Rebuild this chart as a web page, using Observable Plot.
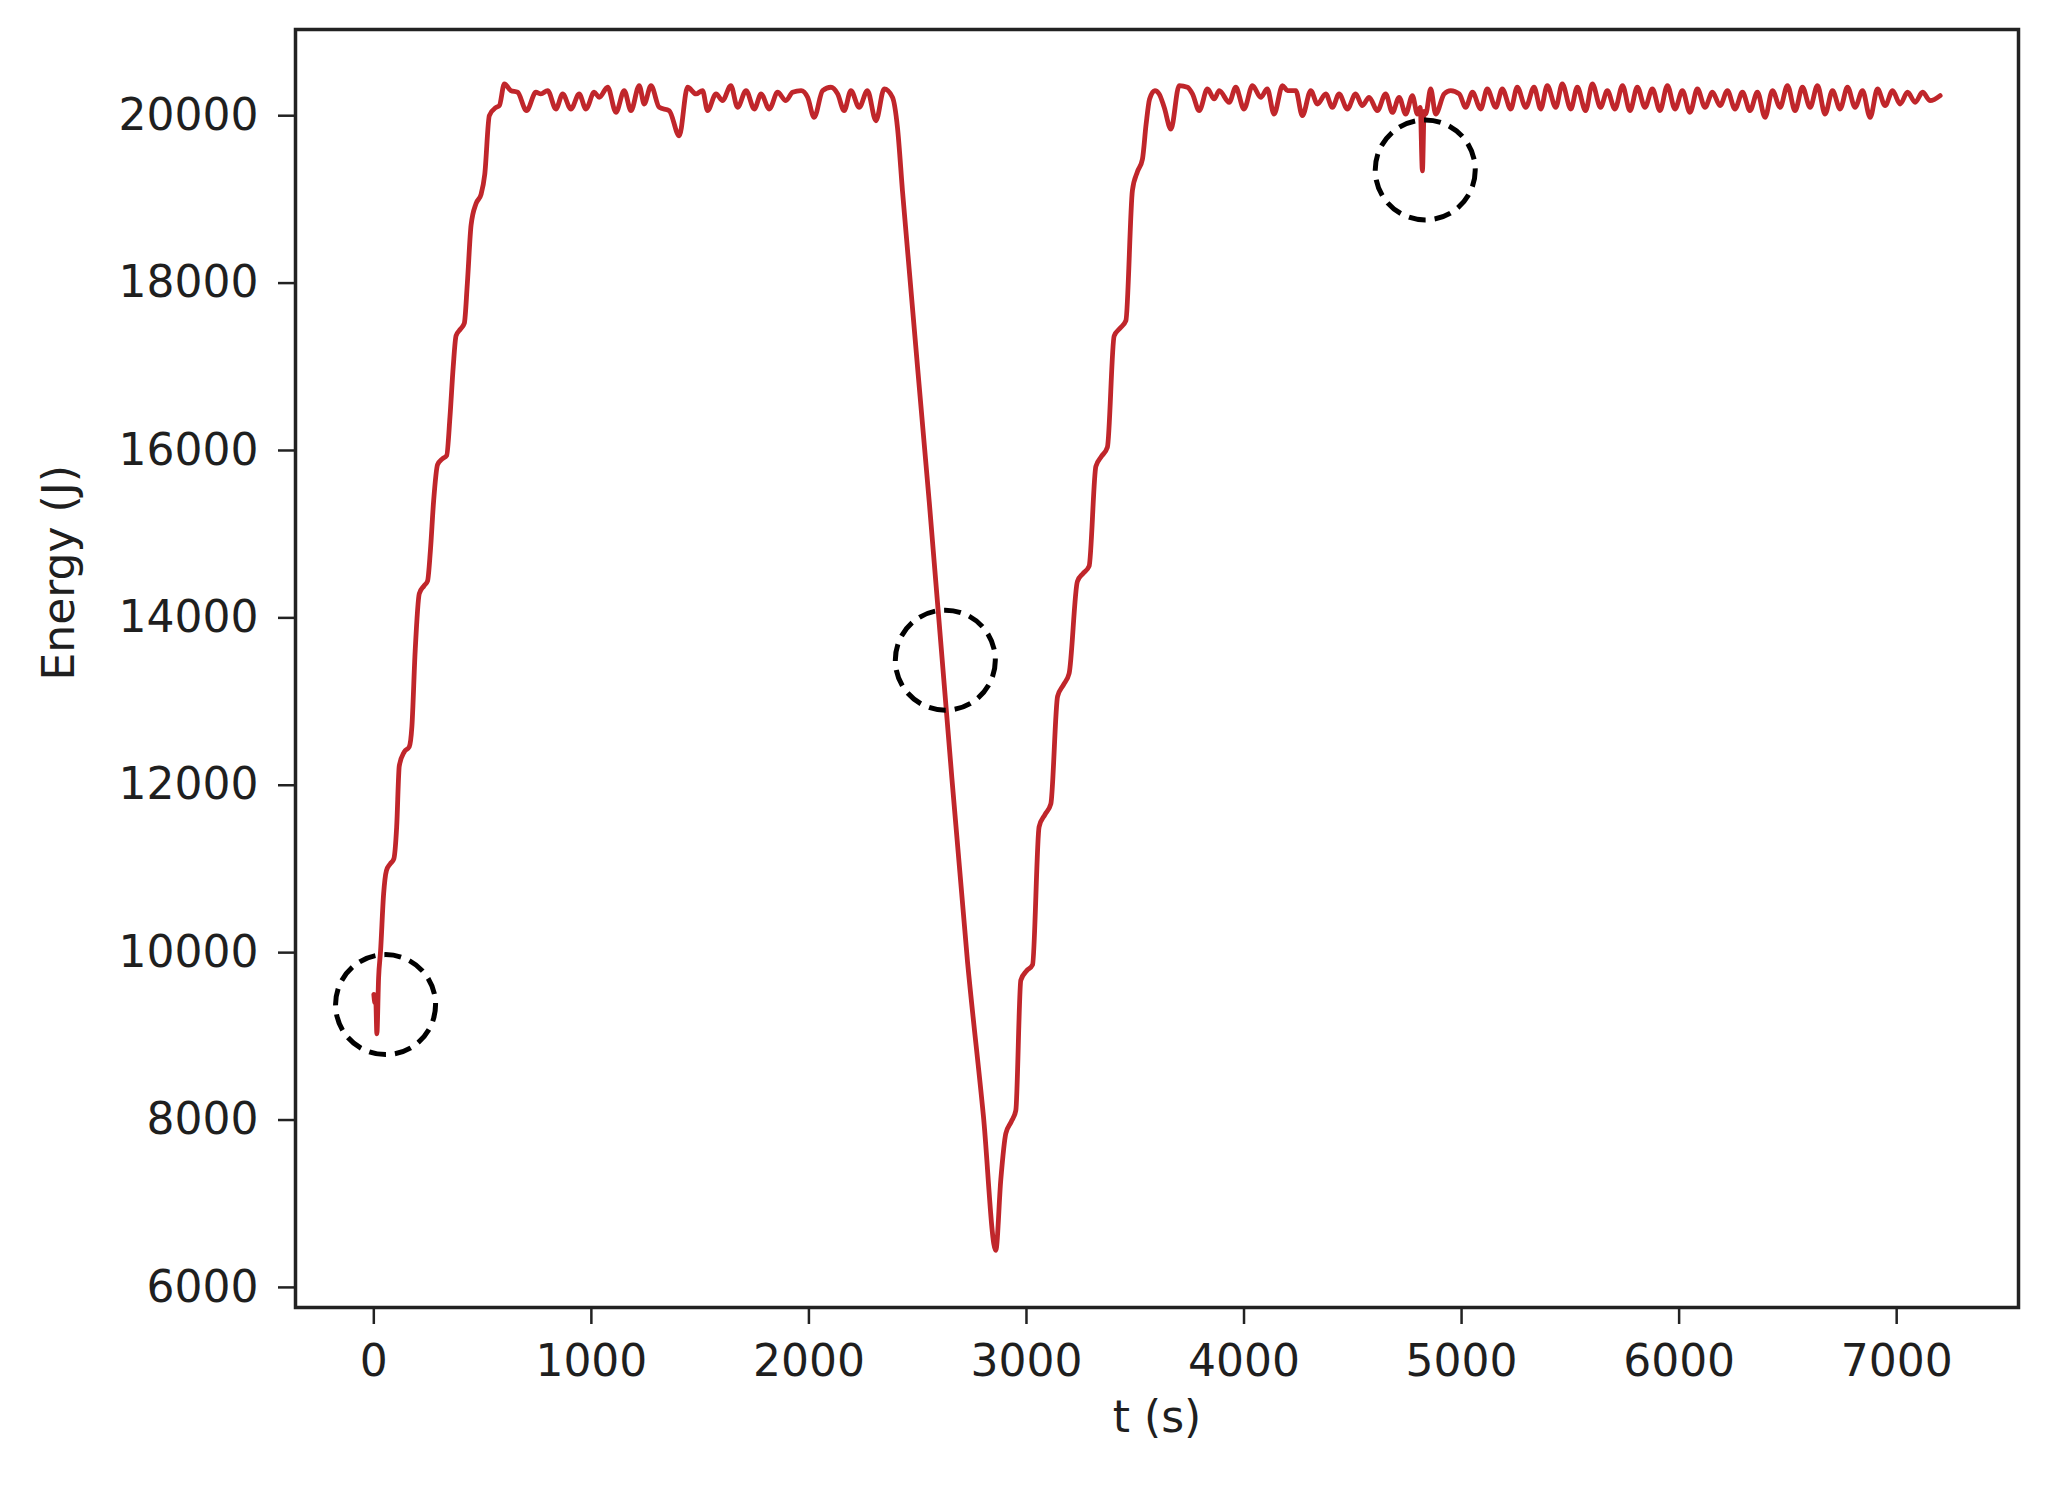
<!DOCTYPE html>
<html>
<head>
<meta charset="utf-8">
<script src="https://cdn.jsdelivr.net/npm/d3@7"></script>
<script src="https://cdn.jsdelivr.net/npm/@observablehq/plot@0.6"></script>
<style>
  html, body { margin: 0; padding: 0; background: #fff; }
  svg { display: block; }
</style>
</head>
<body>
<div id="chart"></div>
<script>
// ---- data ----
const timeS = [
  // first charge
  0,5,9,14,22,31,45,58,75,92,105,117,140,163,175,190,209,230,247,260,275,293,315,335,350,365,378,398,416,430,447,470,493,510,531,562,577,600,
  // first plateau
  630,661,702,745,768,799,837,868,906,944,975,1013,1036,1075,1113,1151,1182,1220,1243,1274,1312,1358,1404,1442,1481,1511,1534,1573,1603,1641,1672,1711,1749,1780,1818,1856,1894,1925,1964,1994,2024,2063,2101,2132,2162,2193,2231,2269,2308,2346,2384,2407,2430,
  // discharge
  2553,2630,2729,2802,2859,
  // second charge
  2882,2905,2930,2951,2974,3000,3028,3058,3085,3112,3143,3170,3196,3234,3260,3288,3319,3345,3372,3403,3430,3457,3487,3510,3533,3550,3566,3590,3610,3633,3664,3702,
  // second plateau (a)
  3740,3763,3794,3832,3863,3886,3932,3962,4000,4039,4077,4107,4138,4177,4200,4238,4268,4307,4337,4376,4406,4437,4475,4513,4544,4575,4613,4651,4682,4713,4743,4774,4797,4810,4820,4828,4835,4858,4881,4920,4950,4989,5019,5050,5088,5118,5157,5187,5226,5256,5295,5333,5364,5394,5433,5463,5502,5532,5570,5601,5639,5670,
  // second plateau (b)
  5705,5740,5774,5808,5843,5877,5912,5946,5981,6015,6050,6084,6119,6153,6188,6222,6257,6291,6326,6360,6395,6429,6464,6498,6533,6567,6602,6636,6671,6705,6740,6774,6809,6843,6878,6912,6947,6981,7016,7050,7085,7119,7154,7200
];

const energyJ = [
  9500,9400,9420,9030,9700,10020,10700,10980,11060,11120,11500,12230,12400,12460,12700,13600,14290,14380,14440,14800,15400,15830,15900,15940,16400,17000,17370,17450,17520,18000,18690,18950,19060,19300,20000,20100,20120,20380,
  20300,20280,20060,20280,20260,20300,20080,20260,20080,20260,20080,20280,20220,20340,20040,20300,20060,20360,20140,20360,20100,20060,19760,20340,20260,20300,20060,20260,20180,20360,20100,20300,20080,20260,20080,20280,20180,20280,20300,20220,19980,20300,20340,20260,20060,20300,20100,20300,19940,20320,20220,19860,19102,
  15389,12946,9892,8050,6443,
  7288,7838,7980,8113,9671,9780,9855,11503,11650,11777,13061,13200,13335,14435,14530,14618,15809,15930,16038,17368,17460,17551,19108,19330,19480,19900,20200,20300,20260,20100,19840,20360,
  20340,20260,20060,20320,20200,20300,20160,20340,20080,20360,20220,20320,20020,20360,20300,20300,20000,20300,20140,20260,20100,20260,20080,20260,20120,20220,20060,20260,20040,20220,20020,20240,20020,20100,19341,20050,20020,20320,20020,20260,20300,20260,20100,20280,20080,20320,20100,20320,20080,20340,20100,20340,20080,20360,20100,20380,20080,20340,20060,20380,20100,20300,
  20080,20360,20060,20340,20100,20320,20060,20360,20080,20300,20040,20320,20100,20280,20120,20300,20080,20280,20060,20280,19980,20300,20100,20360,20060,20340,20100,20360,20020,20300,20080,20340,20100,20300,19980,20320,20120,20300,20140,20280,20160,20280,20180,20240
];

// highlighted events (dashed circles)
const markT = [54, 2627, 4833];
const markE = [9379, 13495, 19352];

const xTicks = [0, 1000, 2000, 3000, 4000, 5000, 6000, 7000];
const yTicks = [6000, 8000, 10000, 12000, 14000, 16000, 18000, 20000];

const xLabel = "t (s)";
const yLabel = "Energy (J)";

// ---- tables for Plot ----
const n = Math.min(timeS.length, energyJ.length);
const series = d3.range(n).map(i => ({t: timeS[i], E: energyJ[i]}));
const marks = markT.map((t, i) => ({t, E: markE[i]}));

const fmt = d3.format("d");
const font = "DejaVu Sans, Liberation Sans, sans-serif";

const chart = Plot.plot({
  width: 2053,
  height: 1489,
  marginLeft: 295,
  marginRight: 35,
  marginTop: 29,
  marginBottom: 182,
  style: {fontFamily: font, fontSize: "44px", color: "#1f1f1f", background: "#fff"},
  x: {domain: [-360, 7560]},
  y: {domain: [5760, 21030]},
  marks: [
    Plot.axisX(xTicks, {tickSize: 17, tickPadding: 20, fontSize: 44, tickFormat: fmt, label: null, strokeWidth: 2.5, stroke: "#222"}),
    Plot.axisY(yTicks, {tickSize: 17, tickPadding: 20, fontSize: 44, tickFormat: fmt, label: null, strokeWidth: 2.5, stroke: "#222"}),
    Plot.line(series, {x: "t", y: "E", curve: "monotone-x", stroke: "#c0262b", strokeWidth: 4.8, strokeLinejoin: "round"}),
    Plot.dot(marks, {x: "t", y: "E", r: 50, stroke: "#000", strokeWidth: 5, strokeDasharray: "17,9", fill: "none"}),
    Plot.frame({stroke: "#222", strokeWidth: 3.5}),
    Plot.text([xLabel], {frameAnchor: "bottom", dy: 124, fontSize: 44, fill: "#1f1f1f"}),
    Plot.text([yLabel], {frameAnchor: "left", dx: -236, dy: 12, rotate: -90, fontSize: 44, fill: "#1f1f1f"})
  ]
});

document.getElementById("chart").appendChild(chart);
</script>
</body>
</html>
